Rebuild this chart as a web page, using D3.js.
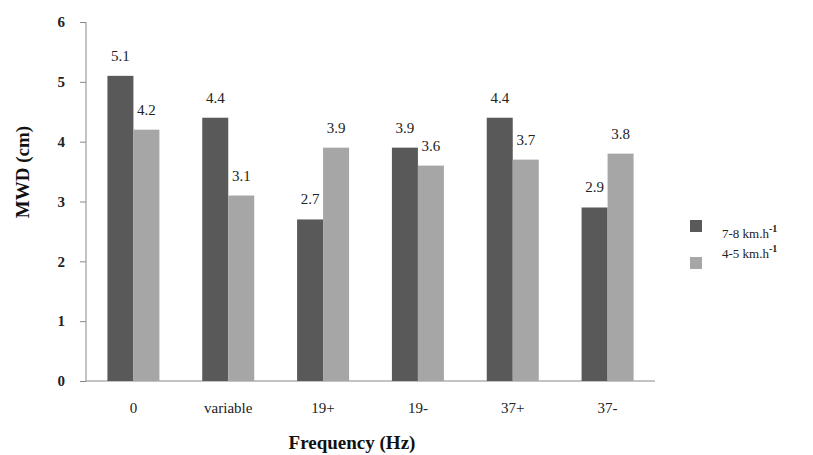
<!DOCTYPE html>
<html><head><meta charset="utf-8">
<script src="https://cdn.jsdelivr.net/npm/d3@7"></script>
<style>body{margin:0;background:#fff}svg{display:block}svg text{font-family:"Liberation Serif","Times New Roman",Tinos,serif !important}</style>
</head><body>
<script>
const categories = ["0","variable","19+","19-","37+","37-"];
const fast = [5.1,4.4,2.7,3.9,4.4,2.9];
const slow = [4.2,3.1,3.9,3.6,3.7,3.8];
const seriesNames = ["7-8 km.h","4-5 km.h"];
const yTicks = [0,1,2,3,4,5,6];
const colors = ["#595959","#a6a6a6"];

const W=813,H=455;
const svg=d3.select("body").append("svg").attr("width",W).attr("height",H);
const x=d3.scaleBand().domain(categories).range([86,655]).paddingInner(0).paddingOuter(0);
const y=d3.scaleLinear().domain([0,6]).range([381,22]);
const barW=26;

// y axis
const ya=svg.append("g").attr("transform","translate(86,0)").call(d3.axisLeft(y).tickValues(yTicks).tickSize(6).tickFormat(d3.format("d")));
ya.attr("font-family",null).attr("font-size",null);
ya.select(".domain").attr("stroke","#888").attr("d","M-0,22V381");
ya.selectAll(".tick line").attr("stroke","#888");
ya.selectAll(".tick text").attr("x",-21).attr("font-weight","bold").attr("font-size",15).attr("fill","#222");

// x axis
const xa=svg.append("g").attr("transform","translate(0,381)").call(d3.axisBottom(x).tickSize(0));
xa.attr("font-family",null).attr("font-size",null);
xa.select(".domain").attr("stroke","#888").attr("d","M86,0H655");
xa.selectAll(".tick text").attr("y",21).attr("font-size",15).attr("fill","#222");

const series=[fast,slow];
series.forEach((vals,si)=>{
  const g=svg.append("g");
  g.selectAll("rect").data(vals).join("rect")
   .attr("x",(d,i)=>x(categories[i])+x.bandwidth()/2-barW+si*barW)
   .attr("y",d=>y(d)).attr("width",barW).attr("height",d=>y(0)-y(d)).attr("fill",colors[si]);
  g.selectAll("text").data(vals).join("text")
   .attr("x",(d,i)=>x(categories[i])+x.bandwidth()/2-barW/2+si*barW)
   .attr("y",d=>y(d)-15).attr("text-anchor","middle")
   .attr("font-size",15).attr("fill","#222")
   .text(d=>d3.format(".1f")(d));
});

// axis titles
svg.append("text").attr("transform","translate(29,172) rotate(-90)").attr("text-anchor","middle")
  .attr("font-weight","bold").attr("font-size",19).attr("fill","#111").text("MWD (cm)");
svg.append("text").attr("x",352).attr("y",449).attr("text-anchor","middle")
  .attr("font-weight","bold").attr("font-size",19).attr("fill","#111").text("Frequency (Hz)");

// legend
const leg=[{sy:220,ty:238},{sy:257,ty:258}];
seriesNames.forEach((n,i)=>{
  svg.append("rect").attr("x",690).attr("y",leg[i].sy).attr("width",12).attr("height",12).attr("fill",colors[i]);
  const t=svg.append("text").attr("x",722).attr("y",leg[i].ty).attr("font-size",13).attr("fill","#222");
  t.append("tspan").text(n);
  t.append("tspan").attr("dy",-6).attr("font-size",10).attr("font-weight","bold").text("-1");
});
</script>
</body></html>
